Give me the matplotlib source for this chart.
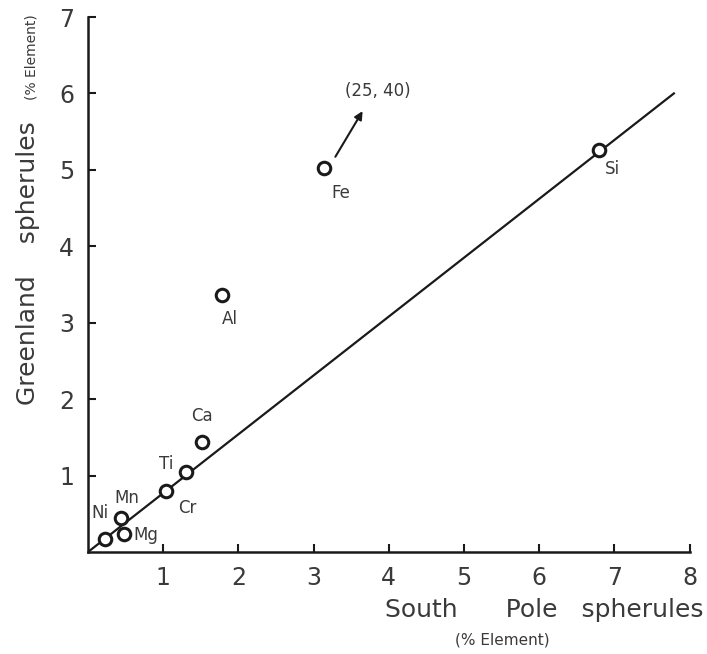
# Greenland vs South Pole spherules composition
import numpy as np
import matplotlib
matplotlib.use("Agg")
import matplotlib.pyplot as plt

# data (% element)
elements = ['Ni', 'Mg', 'Mn', 'Cr', 'Ti', 'Ca', 'Al', 'Fe', 'Si']
south_pole = [0.23, 0.48, 0.44, 1.04, 1.30, 1.51, 1.78, 3.14, 6.79]
greenland = [0.17, 0.24, 0.45, 0.80, 1.05, 1.44, 3.36, 5.03, 5.26]

# label positions for each point
label_x = [0.16, 0.77, 0.51, 1.32, 1.04, 1.51, 1.89, 3.36, 6.97]
label_y = [0.51, 0.22, 0.71, 0.58, 1.15, 1.78, 3.05, 4.70, 5.01]

# fitted line end points
line_x = [0.0, 7.79]
line_y = [0.0, 6.0]

# off-scale Fe value
fe_arrow_from = (3.27, 5.14)
fe_arrow_to = (3.67, 5.80)
fe_text = '(25, 40)'
fe_text_pos = (3.85, 6.03)

ink = '#1a1a1a'
txt = '#3a3a3a'
plt.rcParams['font.family'] = 'DejaVu Sans'

fig = plt.figure(figsize=(7.07, 6.54), dpi=100)
ax = fig.add_axes([0.1245, 0.156, 0.851, 0.818])

ax.plot(line_x, line_y, color=ink, lw=1.6, zorder=2)
ax.plot(south_pole, greenland, 'o', ms=9, mfc='white', mec=ink, mew=2.2, zorder=3)

for name, lx, ly in zip(elements, label_x, label_y):
    ax.text(lx, ly, name, ha='center', va='center', fontsize=12, color=txt)

ax.annotate('', xy=fe_arrow_to, xytext=fe_arrow_from,
            arrowprops=dict(arrowstyle='-|>', color=ink, lw=1.5, mutation_scale=12))
ax.text(fe_text_pos[0], fe_text_pos[1], fe_text, ha='center', va='center',
        fontsize=12, color=txt)

ax.set_xlim(0, 8)
ax.set_ylim(0, 7)
ax.set_xticks(range(1, 9))
ax.set_yticks(range(1, 8))
ax.tick_params(direction='in', length=6, width=1.5, colors=ink,
               labelsize=17, labelcolor=txt, pad=10)
for side in ['top', 'right']:
    ax.spines[side].set_visible(False)
for side in ['left', 'bottom']:
    ax.spines[side].set_linewidth(1.8)
    ax.spines[side].set_color(ink)

# axis titles
fig.text(0.040, 0.598, 'Greenland    spherules', rotation=90, ha='center', va='center',
         fontsize=18, color=txt)
fig.text(0.044, 0.913, '(% Element)', rotation=90, ha='center', va='center',
         fontsize=10, color=txt)
fig.text(0.770, 0.067, 'South      Pole   spherules', ha='center', va='center',
         fontsize=18, color=txt)
fig.text(0.711, 0.022, '(% Element)', ha='center', va='center',
         fontsize=11, color=txt)

fig.savefig('out.png', dpi=100)
plt.close(fig)
